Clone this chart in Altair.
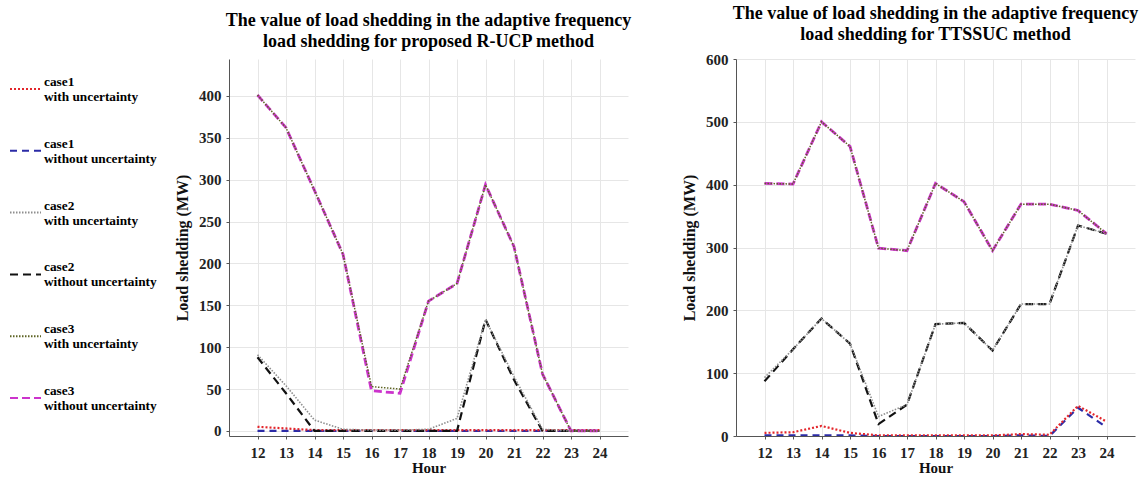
import altair as alt
import pandas as pd

hours = list(range(12, 25))

# legend entries
legend_keys = ["c1w", "c1o", "c2w", "c2o", "c3w", "c3o"]
legend_line1 = ["case1", "case1", "case2", "case2", "case3", "case3"]
legend_line2 = ["with uncertainty", "without uncertainty", "with uncertainty",
                "without uncertainty", "with uncertainty", "without uncertainty"]

# R-UCP panel (left)
rucp_c1_with = [5, 3, 1, 1, 1, 1, 1, 1, 1, 1, 1, 1, 1]
rucp_c1_without = [0, 0, 0, 0, 0, 0, 0, 0, 0, 0, 0, 0, 0]
rucp_c2_with = [91, 54, 13, 2, 1, 1, 2, 15, 133, 65, 2, 0, 0]
rucp_c2_without = [88, 45, 0, 0, 0, 0, 0, 0, 133, 61, 0, 0, 0]
rucp_c3_with = [401, 362, 287, 211, 53, 50, 155, 176, 294, 220, 68, 0, 0]
rucp_c3_without = [401, 362, 287, 211, 48, 45, 155, 176, 294, 220, 68, 0, 0]

# TTSSUC panel (right)
tt_c1_with = [5, 6, 16, 5, 1, 1, 1, 1, 1, 3, 2, 48, 23]
tt_c1_without = [1, 1, 1, 1, 0, 0, 0, 0, 0, 1, 0, 45, 14]
tt_c2_with = [93, 138, 187, 147, 31, 50, 178, 180, 136, 210, 210, 335, 322]
tt_c2_without = [87, 138, 187, 147, 19, 50, 178, 180, 136, 210, 210, 335, 322]
tt_c3_with = [402, 401, 500, 461, 299, 295, 402, 373, 295, 369, 369, 359, 322]
tt_c3_without = [402, 401, 500, 461, 299, 295, 402, 373, 295, 369, 369, 359, 322]

FONT = "Liberation Serif"

styles = {
    "c1w": ("#e3262b", [2, 2], 2.2),
    "c1o": ("#2b2ba6", [7, 5], 2.2),
    "c2w": ("#8e8e8e", [1.5, 1.5], 1.6),
    "c2o": ("#111111", [8, 5], 2.2),
    "c3w": ("#5e6424", [1.5, 1.5], 1.5),
    "c3o": ("#cc33cc", [8, 4], 2.8),
}
draw_order = ["c1o", "c1w", "c2o", "c2w", "c3o", "c3w"]

PW, PH = 399, 377


def panel(series, title_lines, ydom, yticks):
    rows = []
    for key, vals in series.items():
        for h, v in zip(hours, vals):
            rows.append({"hour": h, "value": v, "series": key})
    df = pd.DataFrame(rows)
    base = alt.Chart(df)
    xenc = alt.X("hour:Q", scale=alt.Scale(domain=[11, 25], nice=False, zero=False),
                 axis=alt.Axis(values=hours, title="Hour", grid=True, labelPadding=6,
                               titlePadding=0, tickSize=3, labelOverlap=False, labelFlush=False,
                               titleFontSize=15))
    yenc = alt.Y("value:Q", scale=alt.Scale(domain=ydom, nice=False, zero=False),
                 axis=alt.Axis(values=yticks, title="Load shedding (MW)", grid=True,
                               labelPadding=5, titlePadding=8, tickSize=3,
                               labelOverlap=False, labelFlush=False))
    layers = []
    for key in draw_order:
        color, dash, w = styles[key]
        ch = base.transform_filter(alt.datum.series == key).mark_line(
            color=color, strokeDash=dash, strokeWidth=w, clip=True).encode(x=xenc, y=yenc)
        layers.append(ch)
    return alt.layer(*layers).properties(
        width=PW, height=PH,
        title=alt.TitleParams(text=title_lines, font=FONT, fontSize=18, fontWeight="bold",
                              anchor="middle", frame="group", lineHeight=21, offset=8,
                              color="black"),
    )


left = panel(
    {"c1w": rucp_c1_with, "c1o": rucp_c1_without, "c2w": rucp_c2_with,
     "c2o": rucp_c2_without, "c3w": rucp_c3_with, "c3o": rucp_c3_without},
    ["The value of load shedding in the adaptive frequency",
     "load shedding for proposed R-UCP method"],
    [-6, 444], [0, 50, 100, 150, 200, 250, 300, 350, 400],
)
right = panel(
    {"c1w": tt_c1_with, "c1o": tt_c1_without, "c2w": tt_c2_with,
     "c2o": tt_c2_without, "c3w": tt_c3_with, "c3o": tt_c3_without},
    ["The value of load shedding in the adaptive frequency",
     "load shedding for  TTSSUC method"],
    [0, 600], [0, 100, 200, 300, 400, 500, 600],
)

# custom legend
leg_df = pd.DataFrame({
    "idx": list(range(len(legend_keys))),
    "key": legend_keys,
    "line1": legend_line1,
    "line2": legend_line2,
})
LH = PH
Y0 = 30
STEP = 61.8
yleg = alt.Y("idx:Q", scale=alt.Scale(domain=[-Y0 / STEP, (LH - Y0) / STEP], reverse=True,
                                      nice=False, zero=False), axis=None)
leg_base = alt.Chart(leg_df)
leg_rules = leg_base.mark_rule(strokeWidth=2).encode(
    x=alt.value(5), x2=alt.value(36), y=yleg,
    color=alt.Color("key:N", scale=alt.Scale(domain=legend_keys, range=[styles[k][0] for k in legend_keys]), legend=None),
    strokeDash=alt.StrokeDash("key:N", scale=alt.Scale(domain=legend_keys, range=[styles[k][1] for k in legend_keys]), legend=None),
)
leg_t1 = leg_base.mark_text(align="left", baseline="middle", dy=-7, font=FONT, fontSize=13.3,
                            fontWeight="bold", color="black").encode(
    x=alt.value(39), y=yleg, text="line1:N")
leg_t2 = leg_base.mark_text(align="left", baseline="middle", dy=8, font=FONT, fontSize=13.3,
                            fontWeight="bold", color="black").encode(
    x=alt.value(39), y=yleg, text="line2:N")
legend = alt.layer(leg_rules, leg_t1, leg_t2).properties(width=165, height=LH)

inner = alt.hconcat(left, right, spacing=49)
chart = alt.hconcat(legend, inner, spacing=4).configure_view(stroke=None).configure_axis(
    labelFont=FONT, labelFontSize=15, labelFontWeight="bold", labelColor="#222",
    titleFont=FONT, titleFontSize=16, titleFontWeight="bold", titleColor="#111",
    domainColor="#555", tickColor="#555", gridColor="#e6e6e6",
)

chart.save("out.html", embed_options={"renderer": "svg", "actions": False})
